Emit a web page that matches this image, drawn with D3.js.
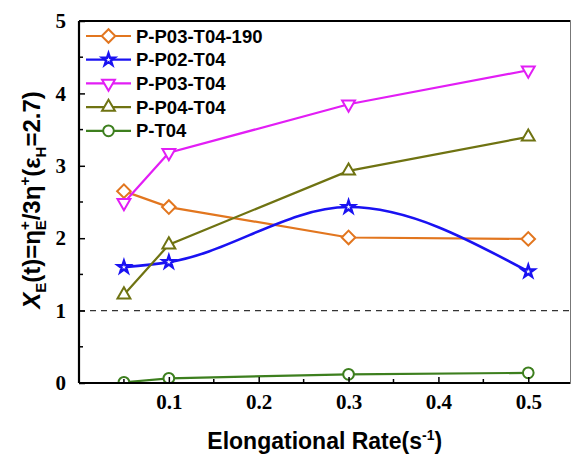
<!DOCTYPE html>
<html>
<head>
<meta charset="utf-8">
<script src="https://cdn.jsdelivr.net/npm/d3@7"></script>
<style>
  body { margin: 0; background: #fff; }
  svg { display: block; }
</style>
</head>
<body>
<div id="container"></div>
<script>
// ---- data ----
const rates = [0.05, 0.1, 0.3, 0.5];
const seriesNames = ["P-P03-T04-190", "P-P02-T04", "P-P03-T04", "P-P04-T04", "P-T04"];
const valsP03T04_190 = [2.65, 2.43, 2.01, 1.99];
const valsP02T04 = [1.60, 1.67, 2.43, 1.54];
const valsP03T04 = [2.49, 3.18, 3.85, 4.32];
const valsP04T04 = [1.22, 1.91, 2.93, 3.40];
const valsPT04 = [0.01, 0.065, 0.12, 0.14];
const xTicks = [0.1, 0.2, 0.3, 0.4, 0.5];
const yTicks = [0, 1, 2, 3, 4, 5];

const width = 572, height = 454;
const margin = {left: 79, top: 21, right: 1.5, bottom: 71};
const innerW = width - margin.left - margin.right;
const innerH = height - margin.top - margin.bottom;

const series = [
  {name: seriesNames[0], values: valsP03T04_190, color: "#e2761f", shape: "diamond", curve: d3.curveLinear},
  {name: seriesNames[1], values: valsP02T04, color: "#1a12f2", shape: "star", curve: d3.curveMonotoneX},
  {name: seriesNames[2], values: valsP03T04, color: "#e21ef5", shape: "down", curve: d3.curveLinear},
  {name: seriesNames[3], values: valsP04T04, color: "#6f7312", shape: "up", curve: d3.curveLinear},
  {name: seriesNames[4], values: valsPT04, color: "#3d7f1e", shape: "circle", curve: d3.curveLinear},
];

const x = d3.scaleLinear().domain([0, 0.547]).range([0, innerW]);
const y = d3.scaleLinear().domain([0, 5]).range([innerH, 0]);

const svg = d3.select("#container").append("svg")
  .attr("width", width).attr("height", height);

svg.append("defs").append("clipPath").attr("id", "plotclip")
  .append("rect").attr("width", innerW).attr("height", innerH);

const g = svg.append("g").attr("transform", `translate(${margin.left},${margin.top})`);

// marker shapes
const markerPath = (shape) => {
  switch (shape) {
    case "diamond": return d3.symbol(d3.symbolSquare, 92)();
    case "star": return d3.symbol(d3.symbolStar, 46)();
    case "up": return d3.symbol(d3.symbolTriangle, 72)();
    case "down": return d3.symbol(d3.symbolTriangle, 72)();
    default: return d3.symbol(d3.symbolCircle, 90)();
  }
};
const markerRot = (shape) => shape === "diamond" ? 45 : shape === "down" ? 180 : 0;

// dashed reference line at 1
g.append("line")
  .attr("x1", 0).attr("x2", innerW)
  .attr("y1", y(1)).attr("y2", y(1))
  .attr("stroke", "#333").attr("stroke-width", 1.3)
  .attr("stroke-dasharray", "6,5");

// lines
const plot = g.append("g").attr("clip-path", "url(#plotclip)");
series.forEach(s => {
  const line = d3.line()
    .x((d, i) => x(rates[i]))
    .y(d => y(d))
    .curve(s.curve);
  plot.append("path")
    .datum(s.values)
    .attr("fill", "none")
    .attr("stroke", s.color)
    .attr("stroke-width", s.shape === "star" ? 2.6 : 2.2)
    .attr("d", line);
});
series.forEach(s => {
  plot.selectAll(null)
    .data(s.values)
    .join("path")
    .attr("d", markerPath(s.shape))
    .attr("transform", (d, i) => `translate(${x(rates[i])},${y(d)}) rotate(${markerRot(s.shape)})`)
    .attr("fill", "#fff")
    .attr("stroke", s.color)
    .attr("stroke-width", s.shape === "star" ? 2.4 : 2);
});

// axes (ticks point inward)
const tickFont = "'Liberation Serif', 'Times New Roman', serif";
const xAxis = g.append("g").attr("transform", `translate(0,${innerH})`)
  .call(d3.axisBottom(x).tickValues(xTicks).tickSize(-6).tickSizeOuter(0).tickPadding(11)
    .tickFormat(d3.format(".1f")));
xAxis.append("g").selectAll("line")
  .data([0.05, 0.15, 0.25, 0.35, 0.45])
  .join("line")
  .attr("x1", d => x(d)).attr("x2", d => x(d))
  .attr("y1", 0).attr("y2", -4)
  .attr("stroke", "#000").attr("stroke-width", 1.5);

const yAxis = g.append("g")
  .call(d3.axisLeft(y).tickValues(yTicks).tickSize(-6).tickSizeOuter(0).tickPadding(13)
    .tickFormat(d3.format("d")));
yAxis.append("g").selectAll("line")
  .data([0.5, 1.5, 2.5, 3.5, 4.5])
  .join("line")
  .attr("x1", 0).attr("x2", 4)
  .attr("y1", d => y(d)).attr("y2", d => y(d))
  .attr("stroke", "#000").attr("stroke-width", 1.5);

[xAxis, yAxis].forEach(a => {
  a.select(".domain").remove();
  a.selectAll(".tick line").attr("stroke", "#000").attr("stroke-width", 1.5);
  a.selectAll(".tick text")
    .attr("font-family", tickFont)
    .attr("font-weight", "bold")
    .attr("font-size", 21)
    .attr("fill", "#000");
});

// frame
g.append("line").attr("x1", 0).attr("x2", innerW).attr("y1", 0).attr("y2", 0)
  .attr("stroke", "#000").attr("stroke-width", 2.2);
g.append("line").attr("x1", 0).attr("x2", innerW).attr("y1", innerH).attr("y2", innerH)
  .attr("stroke", "#000").attr("stroke-width", 2.2);
g.append("line").attr("x1", 0).attr("x2", 0).attr("y1", 0).attr("y2", innerH)
  .attr("stroke", "#000").attr("stroke-width", 2.2);
g.append("line").attr("x1", innerW).attr("x2", innerW).attr("y1", 0).attr("y2", innerH)
  .attr("stroke", "#777").attr("stroke-width", 1);

// legend
const sans = "'Liberation Sans', Arial, sans-serif";
const legend = svg.append("g").attr("transform", "translate(86,36)");
series.forEach((s, i) => {
  const row = legend.append("g").attr("transform", `translate(0,${i * 23.7})`);
  row.append("line").attr("x1", 0).attr("x2", 45).attr("y1", 0).attr("y2", 0)
    .attr("stroke", s.color).attr("stroke-width", 2.2);
  row.append("path")
    .attr("d", markerPath(s.shape))
    .attr("transform", `translate(22.5,0) rotate(${markerRot(s.shape)})`)
    .attr("fill", "#fff").attr("stroke", s.color).attr("stroke-width", s.shape === "star" ? 2.4 : 2);
  row.append("text")
    .attr("x", 50).attr("y", 0).attr("dy", "0.36em")
    .attr("font-family", sans).attr("font-weight", "bold").attr("font-size", 18.5)
    .attr("fill", "#000")
    .text(s.name);
});

// x title
const xt = svg.append("text")
  .attr("x", margin.left + innerW / 2).attr("y", 449)
  .attr("text-anchor", "middle")
  .attr("font-family", sans).attr("font-weight", "bold").attr("font-size", 23)
  .attr("fill", "#000");
xt.append("tspan").text("Elongational Rate(s");
xt.append("tspan").attr("dy", -9).attr("font-size", 14).text("-1");
xt.append("tspan").attr("dy", 9).text(")");

// y title
const yt = svg.append("text")
  .attr("transform", `translate(40,${margin.top + innerH / 2 - 2}) rotate(-90)`)
  .attr("text-anchor", "middle")
  .attr("font-family", sans).attr("font-weight", "bold").attr("font-size", 24)
  .attr("fill", "#000");
yt.append("tspan").attr("font-style", "italic").text("X");
yt.append("tspan").attr("dy", 6).attr("font-size", 15).text("E");
yt.append("tspan").attr("dy", -6).text("(t)=η");
yt.append("tspan").attr("dy", -10).attr("font-size", 15).text("+");
yt.append("tspan").attr("dy", 16).attr("dx", -9).attr("font-size", 15).text("E");
yt.append("tspan").attr("dy", -6).text("/3η");
yt.append("tspan").attr("dy", -10).attr("font-size", 15).text("+");
yt.append("tspan").attr("dy", 10).text("(ε");
yt.append("tspan").attr("dy", 6).attr("font-size", 15).text("H");
yt.append("tspan").attr("dy", -6).text("=2.7)");
</script>
</body>
</html>
